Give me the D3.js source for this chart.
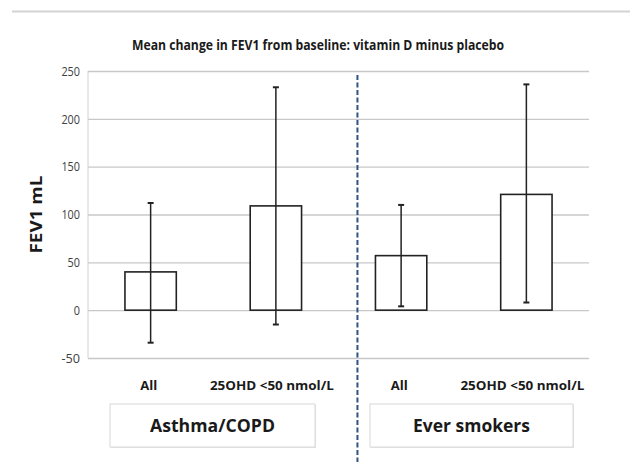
<!DOCTYPE html>
<html><head><meta charset="utf-8">
<script src="https://cdn.jsdelivr.net/npm/d3@7"></script>
<style>body{margin:0;background:#fff}svg{display:block}text{font-family:"Open Sans","Liberation Sans",sans-serif;}</style>
</head><body><svg id="c" width="630" height="466"></svg>
<script>
const categories = ["All", "25OHD <50 nmol/L", "All ", "25OHD <50 nmol/L "];
const means = [40, 109, 57, 121];
const errLow = [-34, -15, 4, 8];
const errHigh = [112, 233, 110, 236];
const yTicks = [-50, 0, 50, 100, 150, 200, 250];
const groups = ["Asthma/COPD", "Ever smokers"];
const title = "Mean change in FEV1 from baseline: vitamin D minus placebo";
const yTitle = "FEV1 mL";

(function () {
const svg = d3.select("#c");
const pL = 88, pR = 589, pT = 71, pB = 358;
const x = d3.scaleBand().domain(categories).range([pL, pR]).paddingInner(0.59).paddingOuter(0.295);
const y = d3.scaleLinear().domain([-50, 250]).range([pB, pT]);

// top rule
svg.append("line").attr("x1", 12).attr("x2", 630).attr("y1", 11.5).attr("y2", 11.5)
  .attr("stroke", "#d3d3d3").attr("stroke-width", 2);

// title
svg.append("text").attr("x", 318).attr("y", 50).attr("text-anchor", "middle")
  .attr("font-size", 13.5).attr("font-weight", "bold").attr("fill", "#1a1a1a")
  .attr("textLength", 372).attr("lengthAdjust", "spacingAndGlyphs").text(title);

// grid + axis
const yAxis = d3.axisLeft(y).tickValues(yTicks).tickSize(-(pR - pL)).tickPadding(8)
  .tickFormat(d => String(d));
const ga = svg.append("g").attr("transform", `translate(${pL},0)`).call(yAxis);
ga.select(".domain").remove();
ga.selectAll(".tick line").attr("stroke", "#c8c8c8").attr("stroke-width", 1.3);
ga.selectAll(".tick text").attr("font-size", 13).attr("fill", "#404040")
  .attr("font-family", "'Open Sans',sans-serif")
  .attr("textLength", function () { return this.textContent.length * 6.2; })
  .attr("lengthAdjust", "spacingAndGlyphs");
svg.append("line").attr("x1", pL).attr("x2", pL).attr("y1", pT).attr("y2", pB)
  .attr("stroke", "#d0d0d0").attr("stroke-width", 1);

// y title
svg.append("text").attr("transform", `translate(42,${(pT + pB) / 2}) rotate(-90)`)
  .attr("text-anchor", "middle").attr("font-size", 16).attr("font-weight", "bold")
  .attr("fill", "#1a1a1a").attr("textLength", 78).attr("lengthAdjust", "spacingAndGlyphs")
  .text(yTitle);

// bars
const idx = d3.range(categories.length);
svg.append("g").selectAll("rect").data(idx).join("rect")
  .attr("x", i => x(categories[i])).attr("width", x.bandwidth())
  .attr("y", i => y(Math.max(0, means[i]))).attr("height", i => Math.abs(y(means[i]) - y(0)))
  .attr("fill", "#fff").attr("stroke", "#222").attr("stroke-width", 1.6);

// error bars
const eg = svg.append("g").attr("stroke", "#222").attr("stroke-width", 1.5);
idx.forEach(i => {
  const cx = x(categories[i]) + x.bandwidth() / 2;
  eg.append("line").attr("x1", cx).attr("x2", cx).attr("y1", y(errLow[i])).attr("y2", y(errHigh[i]));
  [errLow[i], errHigh[i]].forEach(v => {
    eg.append("line").attr("x1", cx - 3).attr("x2", cx + 3).attr("y1", y(v)).attr("y2", y(v)).attr("stroke-width", 2);
  });
});

// category labels
svg.append("g").selectAll("text").data(idx).join("text")
  .attr("x", i => x(categories[i]) + x.bandwidth() / 2 - (i % 2 ? 4 : 2)).attr("y", 390)
  .attr("text-anchor", "middle").attr("font-size", 12.5).attr("font-weight", "bold").attr("fill", "#1a1a1a")
  .attr("textLength", i => i % 2 ? 124 : 17).attr("lengthAdjust", "spacingAndGlyphs")
  .text(i => categories[i].trim());

// divider
const divX = x(categories[2]) - 18;
svg.append("line").attr("x1", divX).attr("x2", divX).attr("y1", 75).attr("y2", 462)
  .attr("stroke", "#2f5480").attr("stroke-width", 2).attr("stroke-dasharray", "5,2.5");

// group boxes
const boxes = [{x: 110, w: 205}, {x: 370, w: 203}];
groups.forEach((g, k) => {
  const b = boxes[k];
  svg.append("rect").attr("x", b.x + 1).attr("y", 405).attr("width", b.w).attr("height", 43)
    .attr("fill", "#e6e6e6");
  svg.append("rect").attr("x", b.x).attr("y", 404).attr("width", b.w).attr("height", 43)
    .attr("fill", "#fff").attr("stroke", "#d8d8d8").attr("stroke-width", 1);
  svg.append("text").attr("x", b.x + b.w / 2).attr("y", 432).attr("text-anchor", "middle")
    .attr("font-size", 18.5).attr("font-weight", "bold").attr("fill", "#1a1a1a")
    .attr("textLength", k === 0 ? 125 : 117).attr("lengthAdjust", "spacingAndGlyphs").text(g);
});
})();
</script></body></html>
